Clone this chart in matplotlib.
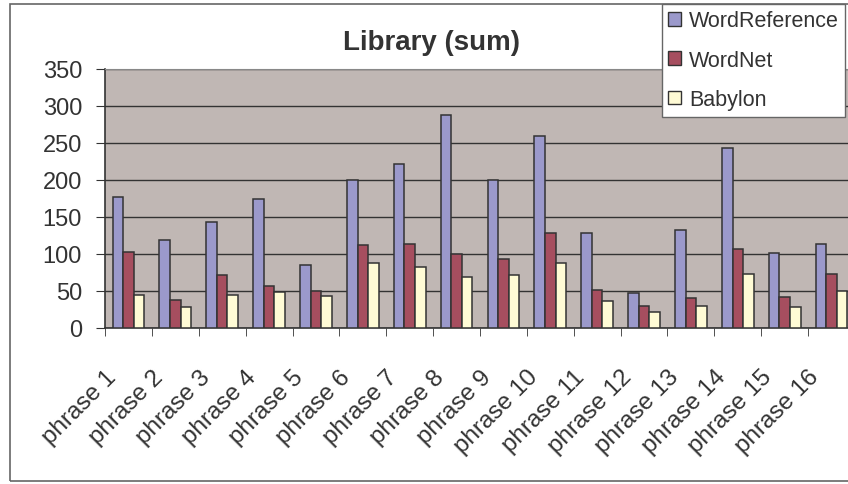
import numpy as np
import matplotlib
matplotlib.use("Agg")
import matplotlib.pyplot as plt
import matplotlib.transforms as mtransforms
from matplotlib.patches import Patch, Rectangle

plt.rcParams['font.family'] = ['Liberation Sans', 'DejaVu Sans']

phrases = [f"phrase {i}" for i in range(1, 17)]
series_names = ['WordReference', 'WordNet', 'Babylon']
word_reference = [177, 119, 143, 174, 85, 200, 222, 288, 200, 260, 129, 47, 133, 243, 102, 114]
wordnet = [103, 38, 71, 57, 50, 112, 114, 100, 93, 129, 52, 30, 40, 107, 42, 73]
babylon = [45, 28, 45, 49, 43, 88, 83, 69, 71, 88, 36, 21, 30, 73, 28, 50]
y_ticks = [0, 50, 100, 150, 200, 250, 300, 350]

colors = ['#9B99CB', '#A64E5F', '#FFFBD5']
text_col = '#333333'
W, H = 848, 485

fig = plt.figure(figsize=(W / 100, H / 100), dpi=100)
fig.patch.set_facecolor('white')

# plot area in pixel coordinates (runs past the right edge, as in the reference)
left, right, top, bottom = 105, 855, 70, 329
ax = fig.add_axes([left / W, (H - bottom) / H, (right - left) / W, (bottom - top) / H])
ax.set_facecolor('#C0B7B4')

x = np.arange(len(phrases))
bw = 0.225
for i, (vals, col) in enumerate(zip([word_reference, wordnet, babylon], colors)):
    ax.bar(x + (i - 1) * bw, vals, width=bw, color=col, edgecolor='#333333',
           linewidth=1.1, zorder=3)

ax.set_xlim(-0.5, len(phrases) - 0.5)
ax.set_ylim(0, 350)
ax.set_yticks(y_ticks)
ax.yaxis.grid(True, color='#333333', linewidth=1.0, zorder=1)
ax.set_axisbelow(True)

ax.set_xticks(x)
ax.set_xticklabels(phrases, rotation=45, ha='right', fontsize=17.5, color=text_col)
ax.set_xticks(np.arange(len(phrases) + 1) - 0.5, minor=True)
ax.tick_params(axis='x', which='major', length=0, pad=27)
ax.tick_params(axis='x', which='minor', length=6, color='#333333', direction='out')
ax.tick_params(axis='y', length=6.5, color='#333333', labelsize=17, pad=10,
               labelcolor=text_col)
shift = mtransforms.ScaledTranslation(-8 / 100, 0, fig.dpi_scale_trans)
for lab in ax.get_xticklabels():
    lab.set_transform(lab.get_transform() + shift)

for s in ['left', 'bottom']:
    ax.spines[s].set_color('#333333')
    ax.spines[s].set_linewidth(1.2)
ax.spines['top'].set_color('#888888')
ax.spines['right'].set_visible(False)

fig.text(431 / W, 1 - 43 / H, 'Library (sum)', ha='center', va='center',
         fontsize=20, fontweight='bold', color=text_col)

# outer chart frame
fig.patches.append(Rectangle((10 / W, (H - 482) / H), 1.0, (482 - 5) / H,
                             transform=fig.transFigure, fill=False,
                             edgecolor='#666666', linewidth=1.2, zorder=0))

handles = [Patch(facecolor=c, edgecolor='#333333', linewidth=1.0, label=n)
           for c, n in zip(colors, series_names)]
leg = fig.legend(handles=handles, loc='upper left',
                 bbox_to_anchor=(662 / W, 1 - 5 / H), bbox_transform=fig.transFigure,
                 fontsize=15.5, frameon=True, fancybox=False, borderpad=0.3,
                 handlelength=0.6, handleheight=0.6, handletextpad=0.35,
                 labelspacing=0.85, borderaxespad=0, framealpha=1)
leg.get_frame().set_edgecolor('#666666')
leg.get_frame().set_linewidth(1.0)
for t in leg.get_texts():
    t.set_color(text_col)

fig.savefig('out.png', dpi=100)
